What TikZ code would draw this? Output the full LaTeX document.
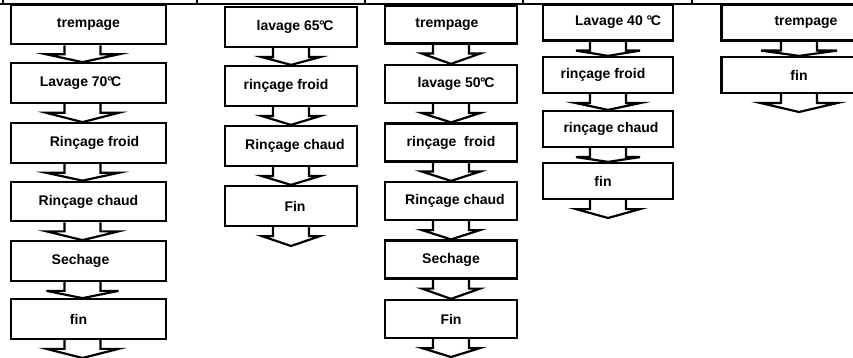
\documentclass[tikz,border=0pt]{standalone}
\usepackage{fontspec}
\setmainfont{Liberation Sans}
\usetikzlibrary{calc}

\tikzset{
  stepbox/.style={draw, line width=2.2pt, inner sep=0pt, font=\fontsize{14}{16}\selectfont\bfseries},
  wide/.style={minimum width=155pt},
  narrow/.style={minimum width=132pt},
}
% move a text sideways inside its box
\newcommand{\nudge}[2]{\kern#1pt#2\kern-#1pt}
% block arrow below box #1 down to #2, x offset #3, half width of the head #4
\newcommand{\flowarrow}[4]{%
  \draw[line width=2.2pt, line join=miter]
    ($(#1.south)+(#3-18,0)$) -- ++(0,9) -- ++(18-#4,0)
    -- ($(#2)+(#3,0)$) -- ($(#1.south)+(#3+#4,9)$) -- ++(18-#4,0) -- ++(0,-9);}

\begin{document}
\begin{tikzpicture}[x=1pt, y=-1pt]
  \useasboundingbox (0,0) rectangle (853,358);
  \clip (0,0) rectangle (853,358);
  \fill[white] (0,0) rectangle (853,358);

  % Bottom of the table above
  \draw[line width=2pt] (0,4) -- (853,4)
    (3,0) -- (3,4) (197,0) -- (197,4) (365,0) -- (365,4)
    (523,0) -- (523,4) (692,0) -- (692,4);

  % Column 1
  \node[stepbox, wide, minimum height=39.5pt] (a1) at (88.5,24.5) {trempage};
  \node[stepbox, wide, minimum height=39.5pt] (a2) at (88.5,83) {\nudge{-8}{Lavage 70\kern-0.5pt°\kern-1.5pt C}};
  \node[stepbox, wide, minimum height=39.5pt] (a3) at (88.5,143) {\nudge{6}{Rinçage froid}};
  \node[stepbox, wide, minimum height=39.5pt] (a4) at (88.5,201.5) {Rinçage chaud};
  \node[stepbox, wide, minimum height=39.5pt] (a5) at (88.5,261) {\nudge{-8}{Sechage}};
  \node[stepbox, wide, minimum height=39.5pt] (a6) at (88.5,319) {\nudge{-10}{fin}};
  \coordinate (aend) at (88.5,358);
  \flowarrow{a1}{a2.north}{-6}{36}
  \flowarrow{a2}{a3.north}{-6}{36}
  \flowarrow{a3}{a4.north}{-6}{36}
  \flowarrow{a4}{a5.north}{-6}{36}
  \flowarrow{a5}{a6.north}{-6}{36}
  \flowarrow{a6}{aend}{-6}{36}

  % Column 2
  \node[stepbox, narrow, minimum height=40pt] (b1) at (291,27) {\nudge{4}{lavage 65\kern-0.5pt°\kern-1.5pt C}};
  \node[stepbox, narrow, minimum height=40pt] (b2) at (291,86) {\nudge{-5}{rinçage froid}};
  \node[stepbox, narrow, minimum height=40pt] (b3) at (291,146) {\nudge{4}{Rinçage chaud}};
  \node[stepbox, narrow, minimum height=40pt] (b4) at (291,206) {\nudge{4}{Fin}};
  \coordinate (bend) at (291,246);
  \flowarrow{b1}{b2.north}{0}{29}
  \flowarrow{b2}{b3.north}{0}{29}
  \flowarrow{b3}{b4.north}{0}{29}
  \flowarrow{b4}{bend}{0}{29}

  % Column 3
  \node[stepbox, narrow, minimum height=38pt] (c1) at (451,24.5) {\nudge{-4}{trempage}};
  \node[stepbox, narrow, minimum height=38pt] (c2) at (451,84) {\nudge{5}{lavage 50\kern-0.5pt°\kern-1.5pt C}};
  \node[stepbox, narrow, minimum height=38pt] (c3) at (451,142.5) {rinçage\ \ froid};
  \node[stepbox, narrow, minimum height=38pt] (c4) at (451,201) {\nudge{4}{Rinçage chaud}};
  \node[stepbox, narrow, minimum height=38pt] (c5) at (451,259.5) {Sechage};
  \node[stepbox, narrow, minimum height=38pt] (c6) at (451,319) {Fin};
  \coordinate (cend) at (451,357);
  \flowarrow{c1}{c2.north}{0}{29}
  \flowarrow{c2}{c3.north}{0}{29}
  \flowarrow{c3}{c4.north}{0}{29}
  \flowarrow{c4}{c5.north}{0}{29}
  \flowarrow{c5}{c6.north}{0}{29}
  \flowarrow{c6}{cend}{0}{29}

  % Column 4
  \node[stepbox, minimum width=130pt, minimum height=36pt] (d1) at (608,22.5) {\nudge{10}{Lavage 40 °\kern-1.5pt C}};
  \node[stepbox, minimum width=130pt, minimum height=36pt] (d2) at (608,75) {\nudge{-5}{rinçage froid}};
  \node[stepbox, minimum width=130pt, minimum height=36pt] (d3) at (608,129) {\nudge{3}{rinçage chaud}};
  \node[stepbox, minimum width=130pt, minimum height=36pt] (d4) at (608,181) {\nudge{-5}{fin}};
  \coordinate (dend) at (608,218);
  \flowarrow{d1}{d2.north}{0}{32}
  \flowarrow{d2}{d3.north}{0}{32}
  \flowarrow{d3}{d4.north}{0}{32}
  \flowarrow{d4}{dend}{0}{32}

  % Column 5, cut by the right edge
  \node[stepbox, wide, minimum height=36pt] (e1) at (799,22.5) {\nudge{7}{trempage}};
  \node[stepbox, wide, minimum height=36pt] (e2) at (799,75) {fin};
  \coordinate (eend) at (799,112);
  \flowarrow{e1}{e2.north}{0}{38}
  \flowarrow{e2}{eend}{0}{38}
\end{tikzpicture}
\end{document}
